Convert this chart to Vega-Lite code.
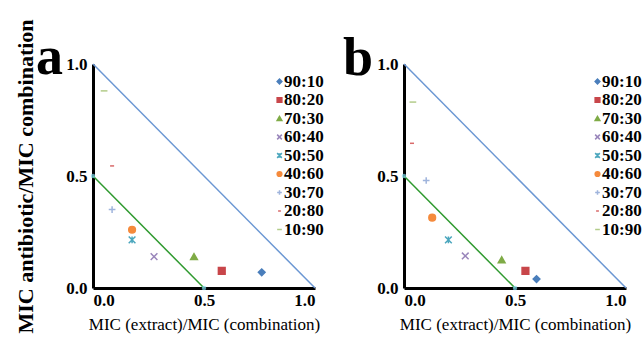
{
  "$schema": "https://vega.github.io/schema/vega-lite/v6.json",
  "background": "white",
  "padding": {"left": 14, "top": 18, "right": 0, "bottom": 0},
  "bounds": "flush",
  "spacing": 89,
  "datasets": {
    "a_pts": [
      {"ratio": "90:10", "x": 0.76, "y": 0.07},
      {"ratio": "80:20", "x": 0.58, "y": 0.076},
      {"ratio": "70:30", "x": 0.455, "y": 0.14},
      {"ratio": "60:40", "x": 0.275, "y": 0.14},
      {"ratio": "50:50", "x": 0.176, "y": 0.215},
      {"ratio": "40:60", "x": 0.176, "y": 0.26},
      {"ratio": "30:70", "x": 0.086, "y": 0.35},
      {"ratio": "20:80", "x": 0.086, "y": 0.545},
      {"ratio": "10:90", "x": 0.05, "y": 0.88}
    ],
    "b_pts": [
      {"ratio": "90:10", "x": 0.597, "y": 0.04},
      {"ratio": "80:20", "x": 0.547, "y": 0.076},
      {"ratio": "70:30", "x": 0.44, "y": 0.126},
      {"ratio": "60:40", "x": 0.276, "y": 0.143},
      {"ratio": "50:50", "x": 0.2, "y": 0.215},
      {"ratio": "40:60", "x": 0.127, "y": 0.314},
      {"ratio": "30:70", "x": 0.1, "y": 0.48},
      {"ratio": "20:80", "x": 0.036, "y": 0.646},
      {"ratio": "10:90", "x": 0.04, "y": 0.83}
    ],
    "lines": [
      {"line": "additive", "x": 0, "y": 1},
      {"line": "additive", "x": 1, "y": 0},
      {"line": "synergy", "x": 0, "y": 0.5},
      {"line": "synergy", "x": 0.5, "y": 0}
    ]
  },
  "config": {
    "font": "'Liberation Serif', 'Times New Roman', serif",
    "view": {"stroke": null},
    "axis": {
      "domainColor": "black",
      "domainWidth": 3,
      "ticks": false,
      "grid": false,
      "labelFont": "'Liberation Serif', 'Times New Roman', serif",
      "labelFontWeight": "bold",
      "labelFontSize": 17,
      "labelColor": "black",
      "titleFont": "'Liberation Serif', 'Times New Roman', serif",
      "titleColor": "black"
    },
    "legend": {
      "labelFont": "'Liberation Serif', 'Times New Roman', serif"
    },
    "title": {
      "font": "'Liberation Serif', 'Times New Roman', serif",
      "fontSize": 54,
      "fontWeight": "bold",
      "color": "black",
      "anchor": "start",
      "frame": "group",
      "baseline": "alphabetic",
      "offset": -12
    }
  },
  "resolve": {
    "scale": {"color": "independent", "shape": "independent", "stroke": "independent"},
    "legend": {"color": "independent", "shape": "independent", "stroke": "independent"}
  },
  "hconcat": [
    {
      "title": {"text": "a", "dx": -57, "dy": 54},
      "width": 222,
      "height": 224,
      "layer": [
        {
          "data": {"name": "lines"},
          "transform": [{"filter": "datum.line === 'additive'"}],
          "mark": {"type": "line", "color": "#6b97d3", "strokeWidth": 1.5},
          "encoding": {
            "x": {"field": "x", "type": "quantitative", "scale": {"domain": [0, 1], "nice": false},
              "axis": {"values": [0, 0.5, 1], "format": ".1f", "labelPadding": 4, "title": "MIC (extract)/MIC (combination)", "titleFontSize": 17, "titleFontWeight": "normal", "titlePadding": 8}},
            "y": {"field": "y", "type": "quantitative", "scale": {"domain": [0, 1], "nice": false},
              "axis": {"values": [0, 0.5, 1], "format": ".1f", "labelPadding": 6, "title": "MIC antibiotic/MIC combination", "titleFontSize": 22, "titleFontWeight": "bold", "titlePadding": 28}}
          }
        },
        {
          "data": {"name": "lines"},
          "transform": [{"filter": "datum.line === 'synergy'"}],
          "mark": {"type": "line", "color": "#2f9a2f", "strokeWidth": 1.5},
          "encoding": {
            "x": {"field": "x", "type": "quantitative"},
            "y": {"field": "y", "type": "quantitative"}
          }
        },
        {
          "data": {"name": "lines"},
          "transform": [{"filter": "datum.line === 'synergy'"}],
          "mark": {"type": "point", "shape": "circle", "filled": true, "color": "#7fd4ea", "size": 20},
          "encoding": {
            "x": {"field": "x", "type": "quantitative"},
            "y": {"field": "y", "type": "quantitative"}
          }
        },
        {
          "data": {"name": "a_pts"},
          "mark": {"type": "point", "filled": true, "size": 45, "strokeWidth": 1.5, "opacity": 1},
          "encoding": {
            "x": {"field": "x", "type": "quantitative"},
            "y": {"field": "y", "type": "quantitative"},
            "color": {"field": "ratio", "type": "nominal",
              "scale": {"domain": ["90:10", "80:20", "70:30", "60:40", "50:50", "40:60", "30:70", "20:80", "10:90"],
                "range": ["#4a7ebb", "#c8464a", "#7fab46", "#9a86bb", "#4aa6bd", "#f58a3c", "#9fb4dc", "#d96a6a", "#b3cc8a"]},
              "legend": {"title": null, "orient": "none", "legendX": 178, "legendY": 9, "padding": 0, "symbolSize": 22, "labelFont": "'Liberation Serif', 'Times New Roman', serif", "labelFontSize": 17, "labelFontWeight": "bold", "labelColor": "black", "labelOffset": -4, "rowPadding": 0.5, "symbolStrokeWidth": 1.5}},
            "stroke": {"field": "ratio", "type": "nominal",
              "scale": {"domain": ["90:10", "80:20", "70:30", "60:40", "50:50", "40:60", "30:70", "20:80", "10:90"],
                "range": ["#4a7ebb", "#c8464a", "#7fab46", "#9a86bb", "#4aa6bd", "#f58a3c", "#9fb4dc", "#d96a6a", "#b3cc8a"]}},
            "shape": {"field": "ratio", "type": "nominal",
              "scale": {"domain": ["90:10", "80:20", "70:30", "60:40", "50:50", "40:60", "30:70", "20:80", "10:90"],
                "range": ["diamond", "square", "triangle-up", "M-1,-1L1,1M-1,1L1,-1", "M-1,-1L1,1M-1,1L1,-1M0,-1L0,1", "circle", "M-1,0L1,0M0,-1L0,1", "M-0.6,0L0.6,0", "M-1,0L1,0"]}}
          }
        }
      ]
    },
    {
      "title": {"text": "b", "dx": -61, "dy": 19},
      "width": 222,
      "height": 224,
      "layer": [
        {
          "data": {"name": "lines"},
          "transform": [{"filter": "datum.line === 'additive'"}],
          "mark": {"type": "line", "color": "#6b97d3", "strokeWidth": 1.5},
          "encoding": {
            "x": {"field": "x", "type": "quantitative", "scale": {"domain": [0, 1], "nice": false},
              "axis": {"values": [0, 0.5, 1], "format": ".1f", "labelPadding": 4, "title": "MIC (extract)/MIC (combination)", "titleFontSize": 17, "titleFontWeight": "normal", "titlePadding": 8}},
            "y": {"field": "y", "type": "quantitative", "scale": {"domain": [0, 1], "nice": false},
              "axis": {"values": [0, 0.5, 1], "format": ".1f", "labelPadding": 6, "title": null}}
          }
        },
        {
          "data": {"name": "lines"},
          "transform": [{"filter": "datum.line === 'synergy'"}],
          "mark": {"type": "line", "color": "#2f9a2f", "strokeWidth": 1.5},
          "encoding": {
            "x": {"field": "x", "type": "quantitative"},
            "y": {"field": "y", "type": "quantitative"}
          }
        },
        {
          "data": {"name": "lines"},
          "transform": [{"filter": "datum.line === 'synergy'"}],
          "mark": {"type": "point", "shape": "circle", "filled": true, "color": "#7fd4ea", "size": 20},
          "encoding": {
            "x": {"field": "x", "type": "quantitative"},
            "y": {"field": "y", "type": "quantitative"}
          }
        },
        {
          "data": {"name": "b_pts"},
          "mark": {"type": "point", "filled": true, "size": 45, "strokeWidth": 1.5, "opacity": 1},
          "encoding": {
            "x": {"field": "x", "type": "quantitative"},
            "y": {"field": "y", "type": "quantitative"},
            "color": {"field": "ratio", "type": "nominal",
              "scale": {"domain": ["90:10", "80:20", "70:30", "60:40", "50:50", "40:60", "30:70", "20:80", "10:90"],
                "range": ["#4a7ebb", "#c8464a", "#7fab46", "#9a86bb", "#4aa6bd", "#f58a3c", "#9fb4dc", "#d96a6a", "#b3cc8a"]},
              "legend": {"title": null, "orient": "none", "legendX": 185, "legendY": 9, "padding": 0, "symbolSize": 22, "labelFont": "'Liberation Serif', 'Times New Roman', serif", "labelFontSize": 17, "labelFontWeight": "bold", "labelColor": "black", "labelOffset": -4, "rowPadding": 0.5, "symbolStrokeWidth": 1.5}},
            "stroke": {"field": "ratio", "type": "nominal",
              "scale": {"domain": ["90:10", "80:20", "70:30", "60:40", "50:50", "40:60", "30:70", "20:80", "10:90"],
                "range": ["#4a7ebb", "#c8464a", "#7fab46", "#9a86bb", "#4aa6bd", "#f58a3c", "#9fb4dc", "#d96a6a", "#b3cc8a"]}},
            "shape": {"field": "ratio", "type": "nominal",
              "scale": {"domain": ["90:10", "80:20", "70:30", "60:40", "50:50", "40:60", "30:70", "20:80", "10:90"],
                "range": ["diamond", "square", "triangle-up", "M-1,-1L1,1M-1,1L1,-1", "M-1,-1L1,1M-1,1L1,-1M0,-1L0,1", "circle", "M-1,0L1,0M0,-1L0,1", "M-0.6,0L0.6,0", "M-1,0L1,0"]}}
          }
        }
      ]
    }
  ]
}
